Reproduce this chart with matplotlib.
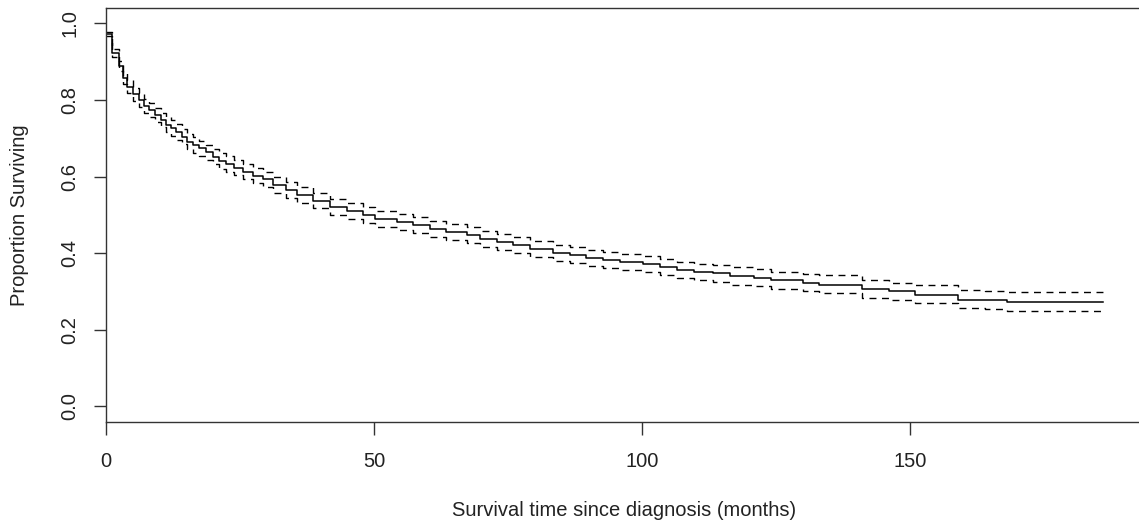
import matplotlib
matplotlib.use("Agg")
import matplotlib.pyplot as plt

plt.rcParams['font.family'] = ['Liberation Sans', 'DejaVu Sans']

# Kaplan-Meier estimate (step times in months) with 95% CI
times = [0, 1.1, 2.4, 3.1, 4, 5.1, 6.1, 7, 8.1, 9.2, 10.3, 11.2, 12.1, 13, 14.2,
         15.2, 16.3, 17.4, 18.7, 19.9, 21.1, 22.4, 23.9, 25.5, 27.4, 29.2, 31.1,
         33.6, 35.6, 38.7, 41.8, 44.9, 48, 50.2, 54.2, 57.3, 60.4, 63.5, 67.3,
         69.8, 72.9, 76, 79.1, 83.4, 86.5, 89.6, 92.8, 95.9, 100.2, 103.4, 106.5,
         109.6, 113.3, 116.4, 120.8, 124, 130, 133, 141, 146, 151, 159, 164, 168]
surv = [0.973, 0.922, 0.888, 0.857, 0.835, 0.815, 0.800, 0.785, 0.774, 0.761,
        0.748, 0.735, 0.727, 0.716, 0.704, 0.691, 0.682, 0.674, 0.663, 0.652,
        0.641, 0.633, 0.623, 0.613, 0.602, 0.593, 0.578, 0.565, 0.552, 0.537,
        0.521, 0.511, 0.499, 0.490, 0.482, 0.473, 0.464, 0.455, 0.447, 0.438,
        0.429, 0.421, 0.410, 0.401, 0.394, 0.388, 0.383, 0.377, 0.371, 0.364,
        0.357, 0.351, 0.347, 0.340, 0.336, 0.329, 0.323, 0.318, 0.307, 0.301,
        0.292, 0.279, 0.277, 0.272]
upper = [0.978, 0.932, 0.901, 0.872, 0.851, 0.832, 0.818, 0.803, 0.793, 0.780,
         0.767, 0.755, 0.747, 0.736, 0.724, 0.711, 0.702, 0.694, 0.683, 0.672,
         0.661, 0.653, 0.643, 0.633, 0.622, 0.613, 0.598, 0.585, 0.572, 0.557,
         0.542, 0.532, 0.520, 0.511, 0.503, 0.494, 0.485, 0.476, 0.468, 0.459,
         0.450, 0.442, 0.431, 0.422, 0.415, 0.409, 0.404, 0.398, 0.392, 0.385,
         0.378, 0.372, 0.369, 0.363, 0.359, 0.351, 0.346, 0.342, 0.331, 0.322,
         0.316, 0.304, 0.302, 0.298]
lower = [0.967, 0.912, 0.875, 0.842, 0.819, 0.798, 0.782, 0.767, 0.755, 0.742,
         0.729, 0.715, 0.707, 0.696, 0.684, 0.671, 0.662, 0.654, 0.643, 0.632,
         0.621, 0.613, 0.603, 0.593, 0.582, 0.573, 0.558, 0.545, 0.532, 0.517,
         0.500, 0.490, 0.478, 0.469, 0.461, 0.452, 0.443, 0.434, 0.426, 0.417,
         0.408, 0.400, 0.389, 0.380, 0.373, 0.367, 0.362, 0.356, 0.350, 0.343,
         0.336, 0.330, 0.325, 0.318, 0.313, 0.307, 0.301, 0.296, 0.284, 0.278,
         0.270, 0.256, 0.253, 0.249]
end_time = 186

xticks = [0, 50, 100, 150]
yticks = [0.0, 0.2, 0.4, 0.6, 0.8, 1.0]
ytick_labels = ["0.0", "0.2", "0.4", "0.6", "0.8", "1.0"]
xlabel = "Survival time since diagnosis (months)"
ylabel = "Proportion Surviving"

W, H = 1139, 526
fig = plt.figure(figsize=(W / 100, H / 100), dpi=100)
left, right, top, bottom = 106, 1143, 8, 421.7
ax = fig.add_axes([left / W, 1 - bottom / H, (right - left) / W, (bottom - top) / H])

t_ext = times + [end_time]
ax.step(t_ext, surv + [surv[-1]], where='post', color='black', lw=1.1)
ax.step(t_ext, upper + [upper[-1]], where='post', color='black', lw=1.0,
        dashes=(5, 4))
ax.step(t_ext, lower + [lower[-1]], where='post', color='black', lw=1.0,
        dashes=(5, 4))

ax.set_xlim(0, end_time * 1.04)
ax.set_ylim(-0.04, 1.04)
ax.set_xticks(xticks)
ax.set_xticklabels([str(v) for v in xticks])
ax.set_yticks(yticks)
ax.set_yticklabels(ytick_labels, rotation=90, va='center')

for s in ax.spines.values():
    s.set_color('#333333')
    s.set_linewidth(1.0)
ax.tick_params(axis='both', length=9, width=1.0, color='#333333',
               labelsize=14.5, labelcolor='#222222')
ax.tick_params(axis='x', pad=13)
ax.tick_params(axis='y', pad=10)

ax.set_xlabel(xlabel, fontsize=14.5, color='#222222', va='center')
ax.set_ylabel(ylabel, fontsize=14.5, color='#222222', va='center')
ax.xaxis.set_label_coords(0.5, (bottom - 510) / (bottom - top))
ax.yaxis.set_label_coords((20 - left) / (right - left), 0.5)

fig.savefig("out.png", dpi=100)
